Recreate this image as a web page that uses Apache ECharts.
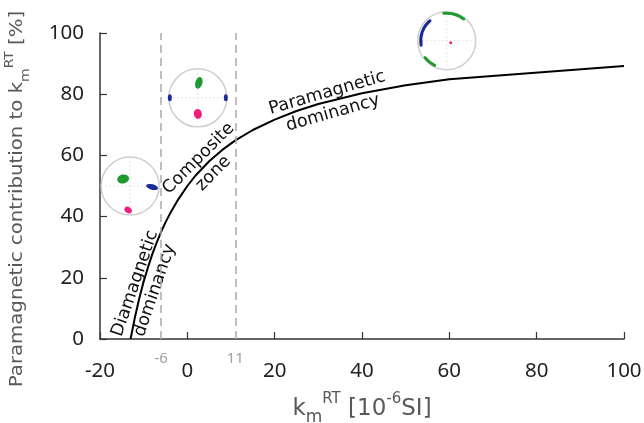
<!DOCTYPE html>
<html><head><meta charset="utf-8">
<script src="https://cdn.jsdelivr.net/npm/echarts@6/dist/echarts.min.js"></script>
<style>html,body{margin:0;padding:0;background:#fff}#c{width:644px;height:423px}</style>
</head><body><div id="c"></div>
<script>
// Data
var kmValues = [-13, -12, -11, -10, -9, -8, -7, -6, -5, -4, -2, 0, 2, 5, 8, 11, 15, 20, 25, 30, 40, 50, 60, 100];
var paraContribution = [0, 7.1, 13.3, 18.8, 23.5, 27.8, 31.6, 35, 38.1, 40.9, 45.8, 50, 53.6, 58.1, 61.8, 64.9, 68.3, 71.7, 74.5, 76.8, 80.3, 82.9, 84.9, 89.2];
var zoneBounds = [-6, 11];
var stereoX = [-13.1, 2.4, 59.4];
var stereoY = [50, 78.8, 97.5];
var xTicks = [-20, 0, 20, 40, 60, 80, 100];
var yTicks = [0, 20, 40, 60, 80, 100];
var zoneLabels = ['Diamagnetic\ndominancy', 'Composite\nzone', 'Paramagnetic\ndominancy'];

var GREEN = '#1f9a2f', BLUE = '#1c2a96', PINK = '#ec1f7f';
var chart = echarts.init(document.getElementById('c'));

function blob(cx, cy, rx, ry, rot, color) {
  return {type: 'circle', x: cx, y: cy, scaleX: rx / 4, scaleY: ry / 4, rotation: rot,
    shape: {cx: 0, cy: 0, r: 4}, style: {fill: color}};
}
function arc(cx, cy, r, a0, a1, color, w) {
  return {type: 'arc', shape: {cx: cx, cy: cy, r: r, startAngle: a0 * Math.PI / 180, endAngle: a1 * Math.PI / 180, clockwise: true},
    style: {stroke: color, lineWidth: w, fill: null, lineCap: 'round'}};
}

function renderStereo(params, api) {
  var p = api.coord([api.value(0), api.value(1)]);
  var cx = p[0], cy = p[1], R = 29, i = params.dataIndex;
  var ch = [
    {type: 'circle', shape: {cx: cx, cy: cy, r: R}, style: {fill: '#fff', stroke: '#cfcfcf', lineWidth: 1.5}},
    {type: 'line', shape: {x1: cx - R, y1: cy, x2: cx + R, y2: cy}, style: {stroke: '#e4e4e4', lineWidth: 1, lineDash: [2, 2]}},
    {type: 'line', shape: {x1: cx, y1: cy - R, x2: cx, y2: cy + R}, style: {stroke: '#e4e4e4', lineWidth: 1, lineDash: [2, 2]}}
  ];
  if (i === 0) {
    ch.push(blob(cx - 7, cy - 7, 6, 4.5, 0.2, GREEN));
    ch.push(blob(cx + 22, cy + 1, 6, 2.8, -0.25, BLUE));
    ch.push(blob(cx - 2, cy + 24, 4, 3, -0.6, PINK));
  } else if (i === 1) {
    ch.push(blob(cx + 1, cy - 15, 3.5, 6, -0.3, GREEN));
    ch.push(blob(cx - 28, cy, 2, 3.5, 0, BLUE));
    ch.push(blob(cx + 28, cy, 2, 3.5, 0, BLUE));
    ch.push(blob(cx, cy + 16, 4, 5, 0.2, PINK));
  } else {
    ch.push(arc(cx, cy, 27.5, -96, -52, GREEN, 3));
    ch.push(arc(cx, cy, 27.5, 116, 142, GREEN, 3));
    ch.push(arc(cx, cy, 26, 170, 230, BLUE, 3));
    ch.push(blob(cx + 4, cy + 2, 1.5, 1.5, 0, PINK));
  }
  return {type: 'group', children: ch};
}

var lineData = kmValues.map(function (v, i) { return [v, paraContribution[i]]; });
var stereoData = stereoX.map(function (v, i) { return [v, stereoY[i]]; });

var titleFont = 'DejaVu Sans';
var TC = '#595959';
var option = {
  animation: false,
  grid: {left: 100, right: 20, top: 33, bottom: 84, containLabel: false, outerBoundsMode: 'none'},
  xAxis: {
    type: 'value', min: -20, max: 100, interval: 20,
    axisLine: {show: true, onZero: false, lineStyle: {color: '#333', width: 1.5}},
    axisTick: {show: true, inside: true, length: 7, lineStyle: {color: '#333', width: 1.2}},
    splitLine: {show: false},
    axisLabel: {fontSize: 20.5, color: '#222', margin: 22, fontFamily: 'Noto Sans',
      formatter: function (v) { return xTicks.indexOf(v) >= 0 ? String(v) : ''; }},
    name: '{b|k}{sub|m}{sup|RT}{b| [10}{sup|-6}{b|SI]}',
    nameLocation: 'middle', nameGap: 53,
    nameTextStyle: {color: TC, fontFamily: titleFont, rich: {
      b: {fontSize: 23, color: TC, fontFamily: titleFont, lineHeight: 34, verticalAlign: 'middle'},
      sub: {fontSize: 17, color: TC, fontFamily: titleFont, lineHeight: 34, verticalAlign: 'bottom'},
      sup: {fontSize: 15, color: TC, fontFamily: titleFont, lineHeight: 34, verticalAlign: 'top'}
    }}
  },
  yAxis: {
    type: 'value', min: 0, max: 100, interval: 20,
    axisLine: {show: true, onZero: false, lineStyle: {color: '#333', width: 1.5}},
    axisTick: {show: true, inside: true, length: 7, lineStyle: {color: '#333', width: 1.2}},
    splitLine: {show: false},
    axisLabel: {fontSize: 20.5, color: '#222', margin: 16, fontFamily: 'Noto Sans',
      formatter: function (v) { return yTicks.indexOf(v) >= 0 ? String(v) : ''; }}
  },
  graphic: [
    {type: 'text', x: 18, y: 199, rotation: Math.PI / 2, scaleX: 1.16,
      style: {text: '{b|Paramagnetic contribution to k}{sub|m}{sup|RT}{b| [%]}', align: 'center', verticalAlign: 'middle',
        rich: {
          b: {fontSize: 17, fill: TC, fontFamily: titleFont, lineHeight: 28, verticalAlign: 'middle'},
          sub: {fontSize: 12, fill: TC, fontFamily: titleFont, lineHeight: 28, verticalAlign: 'bottom'},
          sup: {fontSize: 12, fill: TC, fontFamily: titleFont, lineHeight: 28, verticalAlign: 'top'}
        }}},
    {type: 'text', x: 145, y: 287, rotation: 71 * Math.PI / 180,
      style: {text: zoneLabels[0], font: '17.5px "DejaVu Sans"', fill: '#111', align: 'center', verticalAlign: 'middle', lineHeight: 21}},
    {type: 'text', x: 206, y: 166, rotation: 45 * Math.PI / 180,
      style: {text: zoneLabels[1], font: '17.5px "DejaVu Sans"', fill: '#111', align: 'center', verticalAlign: 'middle', lineHeight: 21}},
    {type: 'text', x: 330, y: 103, rotation: 16 * Math.PI / 180,
      style: {text: zoneLabels[2], font: '17.5px "DejaVu Sans"', fill: '#111', align: 'center', verticalAlign: 'middle', lineHeight: 21}}
  ],
  series: [
    {
      type: 'line', data: lineData, symbol: 'none', smooth: false, z: 3,
      lineStyle: {color: '#000', width: 2},
      markLine: {
        silent: true, symbol: ['none', 'none'],
        lineStyle: {color: '#aaa', width: 1.5, type: [8, 5]},
        label: {show: true, position: 'start', distance: 12, color: '#a0a0a0', fontSize: 15, fontFamily: 'Noto Sans',
          formatter: function (p) { return String(p.value); }},
        data: zoneBounds.map(function (v) { return {xAxis: v}; })
      }
    },
    {
      type: 'custom', data: stereoData, renderItem: renderStereo, z: 4, clip: false
    }
  ]
};
chart.setOption(option);
</script>
</body></html>
